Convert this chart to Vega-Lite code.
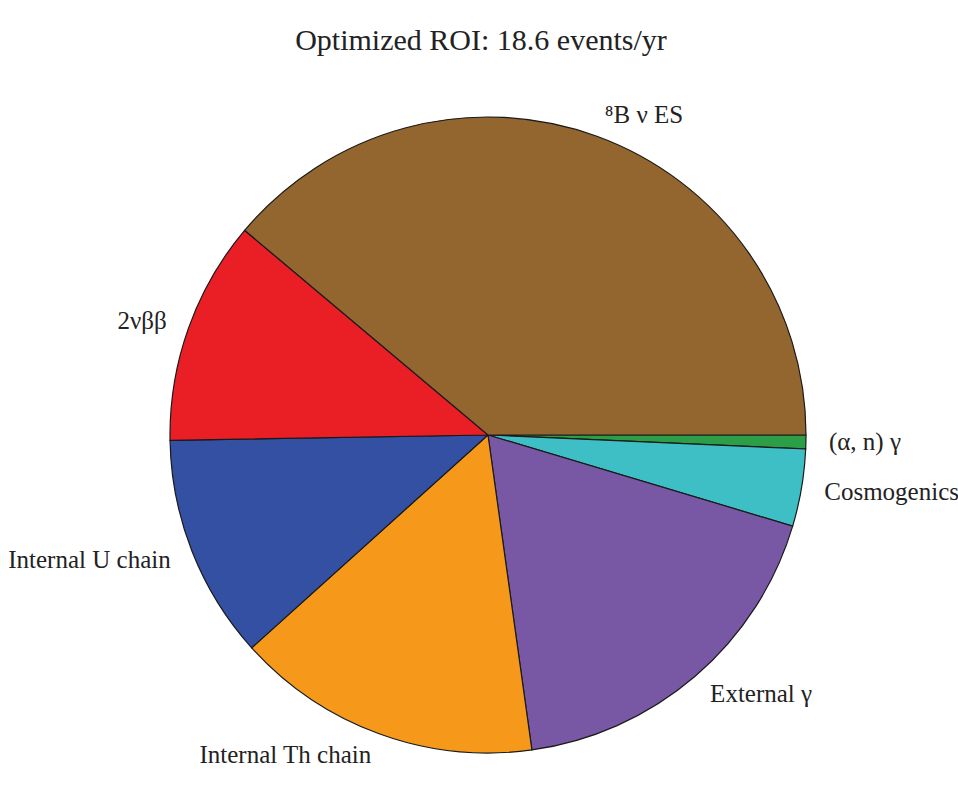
{
  "$schema": "https://vega.github.io/schema/vega-lite/v6.json",
  "width": 936,
  "height": 700,
  "autosize": "none",
  "padding": {"left": 20, "top": 85, "right": 2, "bottom": 7},
  "background": "white",
  "title": {
    "text": "Optimized ROI: 18.6 events/yr",
    "font": "Liberation Serif",
    "fontSize": 30,
    "fontWeight": "normal",
    "color": "#222222",
    "anchor": "middle",
    "dx": -7,
    "offset": 29
  },
  "data": {
    "values": [
      {"source": "(α, n) γ", "rate": 0.13, "order": 1},
      {"source": "Cosmogenics", "rate": 0.73, "order": 2},
      {"source": "External γ", "rate": 3.38, "order": 3},
      {"source": "Internal Th chain", "rate": 2.89, "order": 4},
      {"source": "Internal U chain", "rate": 2.12, "order": 5},
      {"source": "2νββ", "rate": 2.12, "order": 6},
      {"source": "⁸B ν ES", "rate": 7.23, "order": 7}
    ]
  },
  "encoding": {
    "theta": {"field": "rate", "type": "quantitative", "stack": true,
      "scale": {"range": [1.5707963, 7.8539816]}},
    "order": {"field": "order", "type": "quantitative"}
  },
  "layer": [
    {
      "mark": {"type": "arc", "outerRadius": 318, "stroke": "#1a1a1a", "strokeWidth": 1.2},
      "encoding": {
        "color": {
          "field": "source",
          "type": "nominal",
          "legend": null,
          "scale": {
            "domain": ["(α, n) γ", "Cosmogenics", "External γ", "Internal Th chain", "Internal U chain", "2νββ", "⁸B ν ES"],
            "range": ["#2d9e48", "#3ebfc5", "#7857a4", "#f6991b", "#3350a2", "#ea1f26", "#93652f"]
          }
        }
      }
    },
    {
      "mark": {"type": "text", "radius": 341, "baseline": "middle",
        "align": {"expr": "datum.order >= 4 && datum.order <= 6 ? 'right' : 'left'"},
        "font": "Liberation Serif", "fontSize": 25, "color": "#222222"},
      "encoding": {"text": {"field": "source"}}
    }
  ]
}
